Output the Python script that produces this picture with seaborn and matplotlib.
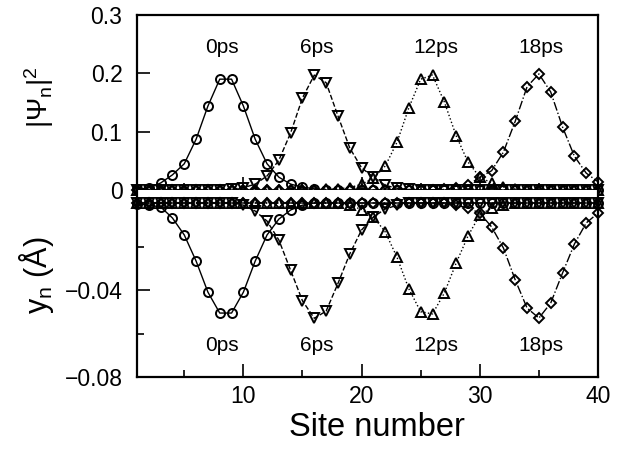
import matplotlib
matplotlib.use('Agg')
import matplotlib.pyplot as plt
import numpy as np
import seaborn as sns

sites = np.arange(1, 41)

# |Psi_n|^2 at each site (top panel)
psi_0ps = [0.001, 0.004, 0.012, 0.026, 0.045, 0.087, 0.144, 0.190, 0.190, 0.144,
           0.087, 0.045, 0.022, 0.010, 0.005, 0.002, 0, 0, 0, 0,
           0, 0, 0, 0, 0, 0, 0, 0, 0, 0,
           0, 0, 0, 0, 0, 0, 0, 0, 0, 0]
psi_6ps = [0, 0, 0, 0, 0, 0, 0, 0, 0.001, 0.004,
           0.010, 0.024, 0.051, 0.098, 0.158, 0.197, 0.184, 0.127, 0.072, 0.038,
           0.022, 0.008, 0.003, 0.001, 0, 0, 0, 0, 0, 0,
           0, 0, 0, 0, 0, 0, 0, 0, 0, 0]
psi_12ps = [0, 0, 0, 0, 0, 0, 0, 0, 0, 0,
            0, 0, 0, 0, 0, 0, 0.001, 0.002, 0.004, 0.010,
            0.020, 0.041, 0.082, 0.141, 0.190, 0.197, 0.151, 0.093, 0.048, 0.022,
            0.012, 0.005, 0.002, 0, 0, 0, 0, 0, 0, 0]
psi_18ps = [0, 0, 0, 0, 0, 0, 0, 0, 0, 0,
            0, 0, 0, 0, 0, 0, 0, 0, 0, 0,
            0, 0, 0, 0, 0, 0, 0.001, 0.003, 0.008, 0.022,
            0.033, 0.065, 0.118, 0.177, 0.199, 0.168, 0.108, 0.058, 0.029, 0.014]

# y_n displacement (bottom panel), Angstrom
y_0ps = [-0.0005, -0.001, -0.0018, -0.0069, -0.0147, -0.0267, -0.041, -0.0506, -0.0506, -0.041,
         -0.0267, -0.0147, -0.0074, -0.0032, -0.001, 0, 0, 0, 0, 0,
         0, 0, 0, 0, 0, 0, 0, 0, 0, 0,
         0, 0, 0, 0, 0, 0, 0, 0, 0, 0]
y_6ps = [0, 0, 0, 0, 0, 0, 0, 0, 0, -0.001,
         -0.0037, -0.0083, -0.017, -0.031, -0.045, -0.053, -0.0497, -0.037, -0.0234, -0.0124,
         -0.0064, -0.0028, -0.001, 0, 0, 0, 0, 0, 0, 0,
         0, 0, 0, 0, 0, 0, 0, 0, 0, 0]
y_12ps = [0, 0, 0, 0, 0, 0, 0, 0, 0, 0,
          0, 0, 0, 0, 0, 0, 0, 0, -0.001, -0.003,
          -0.0064, -0.0133, -0.025, -0.0395, -0.050, -0.051, -0.0414, -0.0276, -0.0152, -0.0055,
          -0.0023, -0.001, 0, 0, 0, 0, 0, 0, 0, 0]
y_18ps = [0, 0, 0, 0, 0, 0, 0, 0, 0, 0,
          0, 0, 0, 0, 0, 0, 0, 0, 0, 0,
          0, 0, 0, 0, 0, 0, 0, -0.001, -0.0023, -0.0046,
          -0.011, -0.0207, -0.0354, -0.0483, -0.0529, -0.046, -0.0322, -0.0189, -0.0092, -0.0046]

times = ['0ps', '6ps', '12ps', '18ps']
label_x = [8.2, 16.2, 26.3, 35.2]

sns.set_style('ticks')
plt.rcParams['font.family'] = ['Liberation Sans', 'DejaVu Sans']
plt.rcParams['mathtext.fontset'] = 'custom'
plt.rcParams['mathtext.rm'] = 'Liberation Sans'
plt.rcParams['mathtext.it'] = 'Liberation Sans'
plt.rcParams['mathtext.default'] = 'regular'
for k in ['text.color', 'axes.labelcolor', 'xtick.color', 'ytick.color', 'axes.edgecolor']:
    plt.rcParams[k] = 'black'

fig = plt.figure(figsize=(6.27, 4.55), dpi=100)
W, H = 627, 455
left, right = 137 / W, 598 / W
ax_top = fig.add_axes([left, 1 - 190 / H, right - left, (190 - 15) / H])
ax_bot = fig.add_axes([left, 1 - 377 / H, right - left, (377 - 190) / H], sharex=ax_top)

styles = [('o', '-'), ('v', '--'), ('^', ':'), ('D', '-.')]
msizes = [6.5, 6.5, 6.5, 5]
top_series = [psi_0ps, psi_6ps, psi_12ps, psi_18ps]
bot_series = [y_0ps, y_6ps, y_12ps, y_18ps]

for (mk, ls), ms, vt, vb in zip(styles, msizes, top_series, bot_series):
    for ax, v in [(ax_top, vt), (ax_bot, vb)]:
        sns.lineplot(x=sites, y=v, ax=ax, color='k', linestyle=ls, linewidth=1.0,
                     marker=mk, markersize=ms, markerfacecolor='none',
                     markeredgecolor='k', markeredgewidth=1.4, clip_on=False)

ax_top.set_xlim(1, 40)
ax_top.set_ylim(0, 0.3)
ax_bot.set_ylim(-0.08, 13 * 0.08 / 174)

ax_top.set_yticks([0, 0.1, 0.2, 0.3])
ax_top.set_yticklabels(['0', '0.1', '0.2', '0.3'])
ax_bot.set_yticks([-0.08, -0.04])
ax_bot.set_yticklabels(['\u22120.08', '\u22120.04'])
ax_bot.set_yticks([-0.06, -0.02], minor=True)
ax_bot.set_xticks([10, 20, 30, 40])
ax_bot.set_xticks([5, 15, 25, 35], minor=True)
plt.setp(ax_top.get_xticklabels(), visible=False)

for ax in (ax_top, ax_bot):
    for s in ax.spines.values():
        s.set_linewidth(1.6)
    ax.tick_params(which='major', direction='in', length=9.5, width=1.2,
                   labelsize=16.5, pad=10.5, top=False, right=False)
    ax.tick_params(which='minor', direction='in', length=5, width=1.2,
                   top=False, right=False)
ax_bot.tick_params(axis='x', which='major', pad=6)
ax_top.spines['bottom'].set_visible(False)
ax_bot.spines['top'].set_visible(False)

ax_top.set_ylabel(r'$|\Psi_n|^2$', fontsize=20)
ax_top.yaxis.set_label_coords(-0.175, 0.53)
ax_bot.set_ylabel(r'$y_n$ (Å)', fontsize=22)
ax_bot.yaxis.set_label_coords(-0.175, 0.545)
ax_bot.set_xlabel('Site number', fontsize=23.5)
ax_bot.xaxis.set_label_coords(0.52, -0.185)
ax_top.set_xlabel('')

for t, x in zip(times, label_x):
    ax_top.text(x, 0.245, t, ha='center', va='center', fontsize=15)
    ax_bot.text(x, -0.0653, t, ha='center', va='center', fontsize=15)

fig.savefig('out.png', dpi=100)
